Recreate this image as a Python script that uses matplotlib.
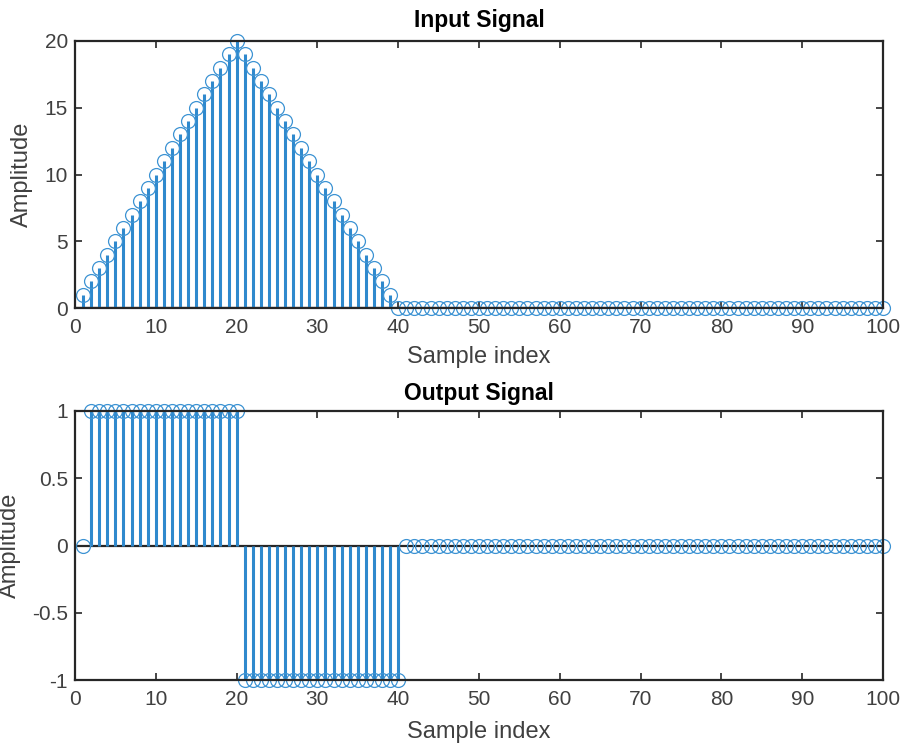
import numpy as np
import matplotlib
matplotlib.use("Agg")
import matplotlib.pyplot as plt

plt.rcParams['font.family'] = ['Liberation Sans', 'DejaVu Sans']

n = list(range(1, 101))
input_vals = list(range(1, 21)) + list(range(19, -1, -1)) + [0] * 60
output_vals = [0] + [1] * 19 + [-1] * 20 + [0] * 60

stem_color = '#2f89cd'
marker_color = '#3d93d3'
axis_color = '#262626'
label_color = '#404040'

fig = plt.figure(figsize=(9.05, 7.46), dpi=100)
W, H = 905, 746
ax1 = fig.add_axes([75 / W, 1 - 308 / H, (883 - 75) / W, (308 - 41) / H])
ax2 = fig.add_axes([75 / W, 1 - 680 / H, (883 - 75) / W, (680 - 411) / H])


def draw(ax, y, title, ylim, yticks, yticklabels, ylab_x, xlab_y, title_y):
    ml, sl, bl = ax.stem(n, y, basefmt=' ')
    plt.setp(sl, color=stem_color, linewidth=2.2)
    plt.setp(ml, markerfacecolor='none', markeredgecolor=marker_color,
             markersize=10, markeredgewidth=0.9)
    ml.set_clip_on(False)
    ax.axhline(0, color=axis_color, linewidth=1.6, zorder=1)
    ax.set_xlim(0, 100)
    ax.set_ylim(*ylim)
    ax.set_xticks(range(0, 101, 10))
    ax.set_yticks(yticks)
    ax.set_yticklabels(yticklabels)
    ax.set_title(title, fontsize=16.5, fontweight='bold', color='black',
                 y=title_y, va='center', pad=0)
    ax.set_xlabel('Sample index', fontsize=17, color=label_color, va='center')
    ax.set_ylabel('Amplitude', fontsize=17, color=label_color, va='center')
    ax.xaxis.set_label_coords(0.5, xlab_y)
    ax.yaxis.set_label_coords(ylab_x, 0.5)
    ax.tick_params(direction='in', top=True, right=True, length=5, width=1.2,
                   labelsize=15, colors=axis_color, labelcolor=label_color)
    ax.tick_params(axis='x', pad=7)
    ax.tick_params(axis='y', pad=5)
    for s in ax.spines.values():
        s.set_color(axis_color)
        s.set_linewidth(1.6)


draw(ax1, input_vals, 'Input Signal', (0, 20), [0, 5, 10, 15, 20],
     ['0', '5', '10', '15', '20'], (22 - 75) / 808, (308 - 357) / 267,
     1 + 21 / 267)
draw(ax2, output_vals, 'Output Signal', (-1, 1), [-1, -0.5, 0, 0.5, 1],
     ['-1', '-0.5', '0', '0.5', '1'], (10 - 75) / 808, (680 - 732) / 269,
     1 + 17 / 269)

fig.savefig('out.png', dpi=100)
